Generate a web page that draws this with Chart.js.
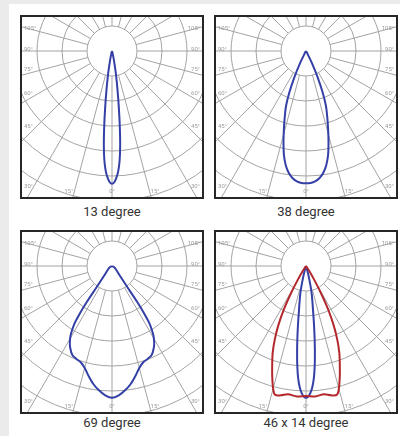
<!DOCTYPE html>
<html>
<head>
<meta charset="utf-8">
<script src="https://cdn.jsdelivr.net/npm/chart.js@4.4.1/dist/chart.umd.min.js"></script>
<style>
	html, body { margin: 0; padding: 0; background: #ebebeb; width: 400px; height: 436px; overflow: hidden; }
	#sheet { position: absolute; left: 9px; top: 4px; right: 0; bottom: 0; background: #fff; }
	.box { position: absolute; width: 180px; height: 180px; border: 2px solid #262626; }
	.box canvas { display: block; }
	.caption { position: absolute; width: 200px; margin-left: -100px; text-align: center;
		font-family: Roboto, "Noto Sans", sans-serif; font-size: 13px; color: #333; line-height: 16px; }
</style>
</head>
<body>
<div id="sheet"></div>
<div class="box" style="left:20px;top:15px"><canvas id="c1" width="180" height="180"></canvas></div>
<div class="box" style="left:214px;top:15px"><canvas id="c2" width="180" height="180"></canvas></div>
<div class="box" style="left:20px;top:230px"><canvas id="c3" width="180" height="180"></canvas></div>
<div class="box" style="left:214px;top:230px"><canvas id="c4" width="180" height="180"></canvas></div>
<div class="caption" style="left:112px;top:204px">13 degree</div>
<div class="caption" style="left:306px;top:204px">38 degree</div>
<div class="caption" style="left:112px;top:415px">69 degree</div>
<div class="caption" style="left:306px;top:415px">46 x 14 degree</div>
<script>
// polar grid
var rings = [1, 2, 3, 4, 5, 6, 7];
var spokes = [0, 15, 30, 45, 60, 75, 90, 105, 120, 135, 150, 165, 180, 195, 210, 225, 240, 255, 270, 285, 300, 315, 330, 345];
var sideLabels = [105, 90, 75, 60, 45];
var bottomLabels = [-30, -15, 0, 15, 30];

// light curves, angle from nadir (deg) and intensity (ring units)
var angles13 = [-18, -16, -14, -12, -10, -9, -8, -7, -6, -5, -4, -3, -2, -1, 0, 1, 2, 3, 4, 5, 6, 7, 8, 9, 10, 12, 14, 16, 18];
var beam13 = [0, 0.03, 0.12, 0.35, 0.8, 1.15, 1.6, 2.2, 2.95, 3.75, 4.38, 4.8, 5.07, 5.25, 5.31, 5.25, 5.07, 4.8, 4.38, 3.75, 2.95, 2.2, 1.6, 1.15, 0.8, 0.35, 0.12, 0.03, 0];

var angles38 = [-30, -28, -26, -24, -22, -20, -18, -16, -14, -12, -10, -8, -6, -4, -2, 0, 2, 4, 6, 8, 10, 12, 14, 16, 18, 20, 22, 24, 26, 28, 30];
var beam38 = [0, 0.12, 0.55, 1.12, 1.75, 2.33, 2.74, 3.2, 3.72, 4.25, 4.65, 4.93, 5.12, 5.23, 5.28, 5.29, 5.28, 5.23, 5.12, 4.93, 4.65, 4.25, 3.72, 3.2, 2.74, 2.33, 1.75, 1.12, 0.55, 0.12, 0];

var angles69 = [-75, -60, -50, -42, -38, -36, -35, -34, -33, -31, -29, -27, -24, -21, -18, -15, -12, -9, -6, -3, 0, 3, 6, 9, 12, 15, 18, 21, 24, 27, 29, 31, 33, 34, 35, 36, 38, 42, 50, 60, 75];
var beam69 = [0, 0.1, 0.2, 0.35, 0.6, 1.05, 1.75, 2.35, 2.78, 3.2, 3.48, 3.68, 3.9, 3.98, 4.05, 4.22, 4.5, 4.78, 5.0, 5.18, 5.27, 5.18, 5.0, 4.78, 4.5, 4.22, 4.05, 3.98, 3.9, 3.68, 3.48, 3.2, 2.78, 2.35, 1.75, 1.05, 0.6, 0.35, 0.2, 0.1, 0];

var angles46 = [-37, -35, -33, -31, -29, -27, -25, -23, -21, -19, -17, -15, -13.5, -11, -8, -4, 0, 4, 8, 11, 13.5, 15, 17, 19, 21, 23, 25, 27, 29, 31, 33, 35, 37];
var beam46 = [0, 0.05, 0.25, 0.6, 1.2, 1.95, 2.62, 3.2, 3.72, 4.15, 4.62, 5.08, 5.3, 5.27, 5.18, 5.23, 5.2, 5.23, 5.18, 5.27, 5.3, 5.08, 4.62, 4.15, 3.72, 3.2, 2.62, 1.95, 1.2, 0.6, 0.25, 0.05, 0];

var angles14 = [-18, -16, -14, -12, -10, -9, -8, -7, -6, -5, -4, -3, -2, -1, 0, 1, 2, 3, 4, 5, 6, 7, 8, 9, 10, 12, 14, 16, 18];
var beam14 = [0, 0.15, 0.5, 1.05, 1.5, 1.8, 2.25, 2.8, 3.4, 4.0, 4.5, 4.85, 5.08, 5.22, 5.27, 5.22, 5.08, 4.85, 4.5, 4.0, 3.4, 2.8, 2.25, 1.8, 1.5, 1.05, 0.5, 0.15, 0];

var BLUE = '#3440a6';
var RED = '#b3282d';

function toPoints(angles, values) {
	return angles.map(function(a, i) {
		var rad = a * Math.PI / 180;
		return { x: values[i] * Math.sin(rad), y: -values[i] * Math.cos(rad) };
	});
}

var polarGrid = {
	id: 'polarGrid',
	beforeDatasetsDraw: function(chart) {
		var ctx = chart.ctx, area = chart.chartArea;
		var xs = chart.scales.x, ys = chart.scales.y;
		var cx = xs.getPixelForValue(0), cy = ys.getPixelForValue(0);
		var unit = xs.getPixelForValue(1) - cx;
		ctx.save();
		ctx.beginPath();
		ctx.rect(area.left, area.top, area.right - area.left, area.bottom - area.top);
		ctx.clip();
		ctx.strokeStyle = '#a3a3a3';
		ctx.lineWidth = 1;
		rings.forEach(function(r) {
			ctx.beginPath();
			ctx.arc(cx, cy, r * unit, 0, Math.PI * 2);
			ctx.stroke();
		});
		ctx.beginPath();
		spokes.forEach(function(a) {
			var rad = a * Math.PI / 180, sx = Math.sin(rad), sy = Math.cos(rad);
			ctx.moveTo(cx + sx * unit, cy + sy * unit);
			ctx.lineTo(cx + sx * unit * 10, cy + sy * unit * 10);
		});
		ctx.stroke();

		ctx.fillStyle = '#9b9b9b';
		ctx.font = '6px Roboto, sans-serif';
		ctx.textBaseline = 'middle';
		sideLabels.forEach(function(a) {
			var rad = a * Math.PI / 180;
			var dx = cx - area.left - 13;
			var y = cy + dx * Math.cos(rad) / Math.sin(rad) - 2;
			ctx.textAlign = 'left';
			ctx.fillText(a + '°', area.left + 2, y);
			ctx.textAlign = 'right';
			ctx.fillText(a + '°', area.right - 2, y);
		});
		bottomLabels.forEach(function(a) {
			var rad = a * Math.PI / 180;
			var up = Math.abs(a) == 30 ? 11 : 6;
			var y = area.bottom - up;
			var x = cx + (y - cy) * Math.tan(rad);
			if (a < 0) { ctx.textAlign = 'right'; x -= 1; }
			else if (a > 0) { ctx.textAlign = 'left'; x += 1; }
			else ctx.textAlign = 'center';
			ctx.fillText(Math.abs(a) + '°', x, y);
		});
		ctx.restore();
	}
};

function diagram(id, series) {
	new Chart(document.getElementById(id), {
		type: 'scatter',
		data: {
			datasets: series.map(function(s) {
				return {
					data: toPoints(s.angles, s.values),
					showLine: true,
					borderColor: s.color,
					borderWidth: 2,
					pointRadius: 0,
					tension: 0.3,
					fill: false
				};
			})
		},
		options: {
			responsive: false,
			animation: false,
			layout: { padding: 0 },
			plugins: { legend: { display: false }, tooltip: { enabled: false } },
			scales: {
				x: { type: 'linear', display: false, min: -3.6, max: 3.6 },
				y: { type: 'linear', display: false, min: -5.84, max: 1.36 }
			}
		},
		plugins: [polarGrid]
	});
}

diagram('c1', [{ angles: angles13, values: beam13, color: BLUE }]);
diagram('c2', [{ angles: angles38, values: beam38, color: BLUE }]);
diagram('c3', [{ angles: angles69, values: beam69, color: BLUE }]);
diagram('c4', [
	{ angles: angles46, values: beam46, color: RED },
	{ angles: angles14, values: beam14, color: BLUE }
]);
</script>
</body>
</html>
